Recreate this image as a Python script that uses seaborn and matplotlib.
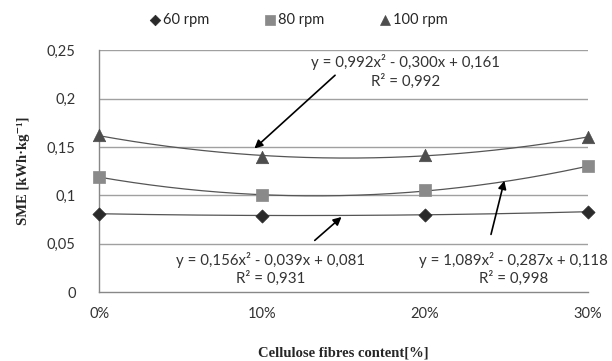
import numpy as np
import pandas as pd
import matplotlib
matplotlib.use("Agg")
import matplotlib.pyplot as plt
import seaborn as sns

# ---- data ----
x_vals = [0.0, 0.10, 0.20, 0.30]
x_ticklabels = ["0%", "10%", "20%", "30%"]
rpm60 = [0.081, 0.079, 0.080, 0.083]
rpm80 = [0.119, 0.100, 0.105, 0.130]
rpm100 = [0.162, 0.140, 0.142, 0.160]
series_names = ["60 rpm", "80 rpm", "100 rpm"]
eq_texts = {
    "100 rpm": "y = 0,992x² - 0,300x + 0,161\nR² = 0,992",
    "60 rpm": "y = 0,156x² - 0,039x + 0,081\nR² = 0,931",
    "80 rpm": "y = 1,089x² - 0,287x + 0,118\nR² = 0,998",
}
y_ticks = [0, 0.05, 0.10, 0.15, 0.20, 0.25]
y_ticklabels = ["0", "0,05", "0,1", "0,15", "0,2", "0,25"]

df = pd.DataFrame({
    "x": x_vals * 3,
    "SME": rpm60 + rpm80 + rpm100,
    "series": [s for s in series_names for _ in x_vals],
})

sns.set_style("white")
plt.rcParams["font.family"] = ["Lato", "DejaVu Sans"]

fig = plt.figure(figsize=(6.12, 3.61), dpi=100)
ax = fig.add_axes([0.162, 0.191, 0.799, 0.670])

colors = {"60 rpm": "#2a2a2a", "80 rpm": "#8a8a8a", "100 rpm": "#4d4d4d"}
markers = {"60 rpm": "D", "80 rpm": "s", "100 rpm": "^"}
sizes = {"60 rpm": 45, "80 rpm": 80, "100 rpm": 80}

# gridlines
for yt in y_ticks[1:]:
    ax.axhline(yt, color="#a0a0a0", lw=1.0, zorder=0)

# trend lines (quadratic fit of each series)
xs = np.linspace(0, 0.30, 200)
for name, vals in zip(series_names, [rpm60, rpm80, rpm100]):
    c = np.polyfit(x_vals, vals, 2)
    sns.lineplot(x=xs, y=np.polyval(c, xs), ax=ax, color="#555555", lw=0.9, zorder=2)

for name in series_names:
    sub = df[df.series == name]
    sns.scatterplot(data=sub, x="x", y="SME", ax=ax, color=colors[name],
                    marker=markers[name], s=sizes[name], edgecolor=colors[name],
                    linewidth=0.5, zorder=3, label=name, clip_on=False)

ax.set_xlim(0, 0.30)
ax.set_ylim(0, 0.25)
ax.set_xticks(x_vals)
ax.set_xticklabels(x_ticklabels, fontsize=10.5, color="#333333")
ax.set_yticks(y_ticks)
ax.set_yticklabels(y_ticklabels, fontsize=10.5, color="#333333")
ax.tick_params(axis="both", length=4, color="#888888", direction="out")
ax.tick_params(axis="y", pad=13)
ax.tick_params(axis="x", pad=7)
for s in ["top", "right"]:
    ax.spines[s].set_visible(False)
for s in ["left", "bottom"]:
    ax.spines[s].set_color("#888888")
    ax.spines[s].set_linewidth(1.0)

ax.set_xlabel("Cellulose fibres content[%]", family=["Liberation Serif", "DejaVu Serif"],
              fontweight="bold", fontsize=10.5, labelpad=18)
ax.set_ylabel("SME [kWh·kg⁻¹]", family=["Liberation Serif", "DejaVu Serif"],
              fontweight="bold", fontsize=10.5, labelpad=12)

# equation labels and arrows
fs = 10.8
ax.text(0.188, 0.228, eq_texts["100 rpm"], ha="center", va="center", fontsize=fs,
        color="#333333", linespacing=1.25)
ax.annotate("", xy=(0.094, 0.1465), xytext=(0.146, 0.226),
            arrowprops=dict(arrowstyle="-|>", color="black", lw=1.2, mutation_scale=12))

ax.text(0.105, 0.0238, eq_texts["60 rpm"], ha="center", va="center", fontsize=fs,
        color="#333333", linespacing=1.25)
ax.annotate("", xy=(0.150, 0.0795), xytext=(0.131, 0.0515),
            arrowprops=dict(arrowstyle="-|>", color="black", lw=1.2, mutation_scale=12))

ax.text(0.254, 0.0238, eq_texts["80 rpm"], ha="center", va="center", fontsize=fs,
        color="#333333", linespacing=1.25, clip_on=False)
ax.annotate("", xy=(0.249, 0.1178), xytext=(0.240, 0.0568),
            arrowprops=dict(arrowstyle="-|>", color="black", lw=1.2, mutation_scale=12))

leg = ax.legend(loc="center", bbox_to_anchor=(0.487, 0.945), bbox_transform=fig.transFigure,
                ncol=3, frameon=False, fontsize=10.5, handletextpad=0.1, handlelength=0.9,
                columnspacing=3.7, markerscale=0.8)

fig.savefig("out.png", dpi=100)
